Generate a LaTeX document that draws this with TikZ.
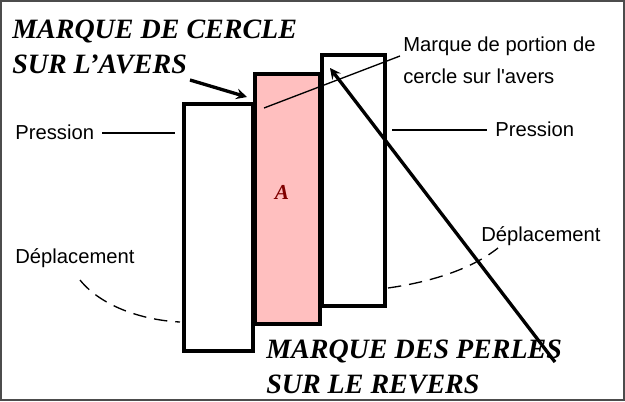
\documentclass[tikz,border=0pt]{standalone}
\usetikzlibrary{calc}
\usepackage{fontspec}
\setmainfont{Liberation Serif}
\newfontfamily\sans{Liberation Sans}
\begin{document}
\begin{tikzpicture}[x=0.75pt,y=-0.75pt,
 bar/.style={draw,line width=3pt,anchor=north west,inner sep=0pt},
 lbl/.style={font=\sans\fontsize{11.4}{18}\selectfont,inner sep=0pt},
 big/.style={font=\bfseries\itshape\fontsize{21}{26}\selectfont,align=left,inner sep=0pt,anchor=west}]
\useasboundingbox (0,0) rectangle (625,401);
\draw[line width=1.5pt,black!70] (1,1) rectangle (624,400);
\node[bar,fill=white,minimum width=51.75pt,minimum height=185.25pt] (L) at (182,102) {};
\node[bar,fill=red!25,minimum width=48.75pt,minimum height=187.5pt] (P) at (253,72) {};
\node[bar,fill=white,minimum width=47.25pt,minimum height=188.25pt] (R) at (320,53) {};
\node[font=\bfseries\itshape\fontsize{16}{18}\selectfont,text=red!50!black] (A) at (282,192) {A};
\node[big] (t1) at (12,47) {MARQUE DE CERCLE\\SUR L'AVERS};
\node[big] (t2) at (266,367) {MARQUE DES PERLES\\SUR LE REVERS};
\node[lbl,align=left,anchor=west,scale=1.33] (mp) at (403,60) {Marque de portion de\\cercle sur l'avers};
\node[lbl,anchor=west,scale=1.33] (p1) at (15,132) {Pression};
\node[lbl,anchor=west,scale=1.33] (p2) at (495,129) {Pression};
\node[lbl,anchor=west,scale=1.33] (d1) at (15,258) {Déplacement};
\node[lbl,anchor=west,scale=1.33] (d2) at (481,236) {Déplacement};
\coordinate (a1) at (190,80); \coordinate (a2) at (247,97);
\draw[line width=2.5pt,-stealth] (a1) -- (a2);
\coordinate (b1) at (555,362); \coordinate (b2) at (330,68);
\draw[line width=2.5pt,-stealth] (b1) -- (b2);
\coordinate (m1) at (400,56); \coordinate (m2) at (264,108);
\draw[line width=1pt] (m1) -- (m2);
\draw[line width=1pt] ($(p1.east)+(8,1)$) -- (175,133);
\draw[line width=1pt] (392,130) -- ($(p2.west)+(-8,1)$);
\draw[line width=1pt,dash pattern=on 10pt off 6pt] (80,280) .. controls (100,305) and (140,320) .. (180,322);
\draw[line width=1pt,dash pattern=on 10pt off 6pt] (388,288) .. controls (430,282) and (470,270) .. (498,248);
\end{tikzpicture}
\end{document}
